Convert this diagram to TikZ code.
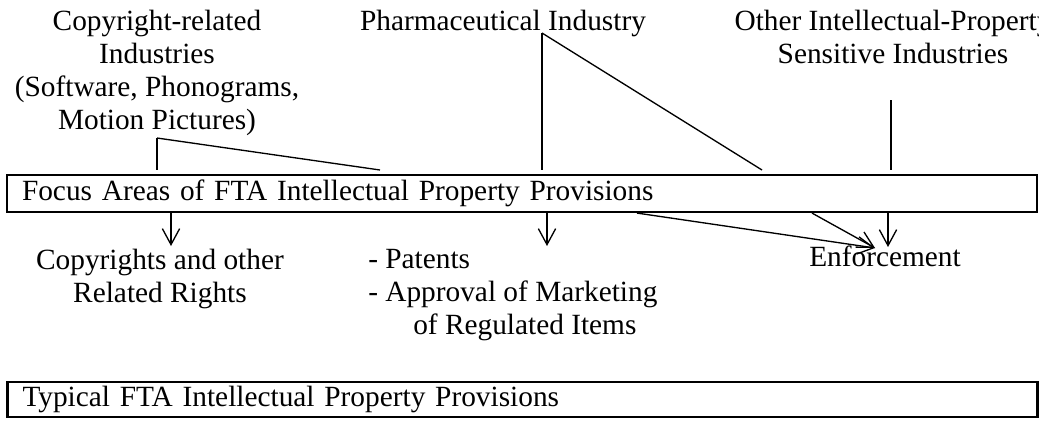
\documentclass[tikz,border=0pt]{standalone}
\usepackage{fontspec}
\setmainfont{Liberation Serif}
\usetikzlibrary{arrows.meta}

\begin{document}
\begin{tikzpicture}[x=0.75pt, y=-0.75pt,
  every node/.style={font=\fontsize{22}{24.75}\selectfont, inner sep=0pt},
  txt/.style={align=center},
  provbox/.style={draw, line width=1.6pt, text width=750pt, align=left, inner xsep=11.25pt},
  link/.style={line width=1pt},
  arr/.style={line width=1pt, -{Straight Barb[length=12pt,width=13pt]}}]
  \useasboundingbox (0,0) rectangle (1039,422);

  \node (copyright) [txt, anchor=north] at (157,10) {Copyright-related\\Industries\\(Software, Phonograms,\\Motion Pictures)};
  \node (pharma) [anchor=base] at (503,30) {Pharmaceutical Industry};
  \node (otherip) [txt, anchor=north] at (893,10) {Other Intellectual-Property\\Sensitive Industries};
  \node (focus) [provbox, minimum height=27.75pt] at (522,193.5) {Focus Areas of FTA Intellectual Property Provisions};
  \node (copyrights) [txt, anchor=north] at (160,249) {Copyrights and other\\Related Rights};
  \node (patents) [align=left, anchor=north west] at (368,249) {- Patents\\- Approval of Marketing\\\hspace*{33.75pt}of Regulated Items};
  \node (enforce) [anchor=base] at (885,266) {Enforcement};
  \node (typical) [provbox, minimum height=26.25pt] at (522.5,399.5) {Typical FTA Intellectual Property Provisions};

  \coordinate (crjoint) at (157,138);
  \coordinate (crend) at (380,170);
  \coordinate (phjoint) at (542,33);
  \coordinate (phend) at (762,170);
  \coordinate (oiptop) at (891,100);
  \draw[link] (crjoint) -- (crjoint |- crend);
  \draw[link] (crjoint) -- (crend);
  \draw[link] (phjoint) -- (phjoint |- phend);
  \draw[link] (phjoint) -- (phend);
  \draw[link] (oiptop) -- (oiptop |- phend);

  \coordinate (crtip) at (171,246);
  \coordinate (phtip) at (547,246);
  \coordinate (entip) at (888,247);
  \coordinate (enjoin) at (875,248);
  \coordinate (enfrom1) at (637,212);
  \coordinate (enfrom2) at (812,212);
  \draw[arr] (crtip |- focus.south) -- (crtip);
  \draw[arr] (phtip |- focus.south) -- (phtip);
  \draw[arr] (entip |- focus.south) -- (entip);
  \draw[arr] (enfrom1 |- focus.south) -- (enjoin);
  \draw[arr] (enfrom2 |- focus.south) -- (enjoin);
\end{tikzpicture}
\end{document}
